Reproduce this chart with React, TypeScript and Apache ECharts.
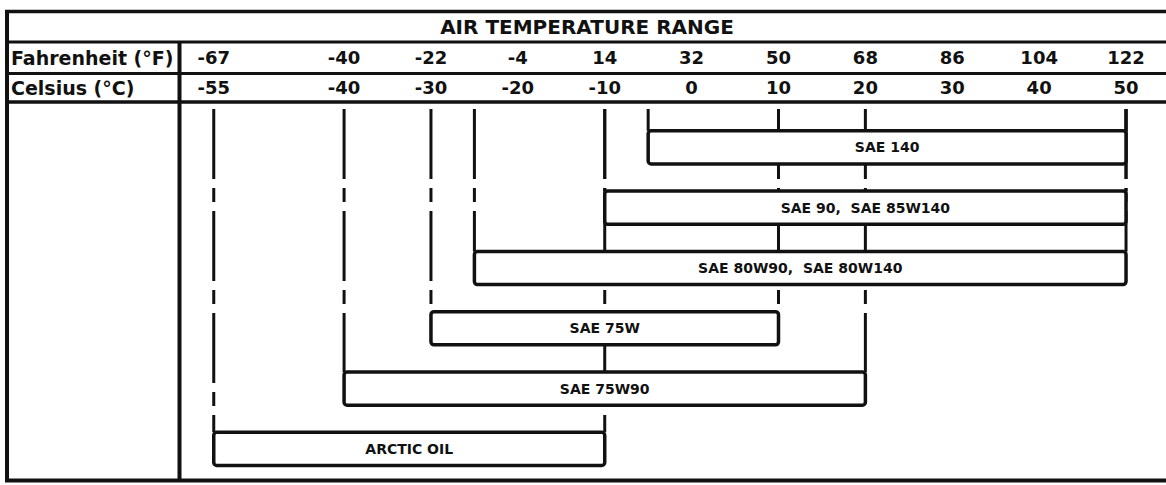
import React, { useEffect, useRef } from "react";
import * as echarts from "echarts";

// ---- data ----
const oils = [
  "SAE 140",
  "SAE 90,  SAE 85W140",
  "SAE 80W90,  SAE 80W140",
  "SAE 75W",
  "SAE 75W90",
  "ARCTIC OIL",
];
const lowC = [-5, -10, -25, -30, -40, -55];
const highC = [50, 50, 50, 10, 20, -10];
const celsiusTicks = [-55, -40, -30, -20, -10, 0, 10, 20, 30, 40, 50];
const fahrenheitTicks = [-67, -40, -22, -4, 14, 32, 50, 68, 86, 104, 122];
const titleText = "AIR TEMPERATURE RANGE";
const rowLabelF = "Fahrenheit (°F)";
const rowLabelC = "Celsius (°C)";

const C_MIN = -59;
const C_MAX = 54.6;
const toF = (c: number) => c * 1.8 + 32;

const INK = "#111";
const FONT = "DejaVu Sans";

export default function App() {
  const ref = useRef<HTMLDivElement>(null);

  useEffect(() => {
    if (!ref.current) return;
    const chart = echarts.init(ref.current, null, { renderer: "svg" });

    const rows = oils.map((name, i) => [lowC[i], highC[i], i, name]);
    const boxH = 0.55;

    const hline = (y: number, x1: number, x2: number, w: number) => ({
      type: "line",
      shape: { x1, y1: y, x2, y2: y },
      style: { stroke: INK, lineWidth: w },
      z: 10,
    });
    const vline = (x: number, y1: number, y2: number, w: number) => ({
      type: "line",
      shape: { x1: x, y1, x2: x, y2 },
      style: { stroke: INK, lineWidth: w },
      z: 10,
    });

    chart.setOption({
      animation: false,
      backgroundColor: "#fff",
      grid: { left: 179, right: 0, top: 107, bottom: 6 },
      xAxis: [
        {
          type: "value",
          position: "top",
          min: C_MIN,
          max: C_MAX,
          axisLine: { show: false },
          axisTick: { show: false },
          splitLine: { show: false },
          axisLabel: {
            customValues: celsiusTicks,
            margin: 20,
            verticalAlign: "middle",
            color: INK,
            fontFamily: FONT,
            fontWeight: "bold",
            fontSize: 18,
          },
        },
        {
          type: "value",
          position: "top",
          min: toF(C_MIN),
          max: toF(C_MAX),
          axisLine: { show: false },
          axisTick: { show: false },
          splitLine: { show: false },
          axisLabel: {
            customValues: fahrenheitTicks,
            margin: 50,
            verticalAlign: "middle",
            color: INK,
            fontFamily: FONT,
            fontWeight: "bold",
            fontSize: 18,
          },
        },
      ],
      yAxis: {
        type: "value",
        inverse: true,
        min: -0.67,
        max: 5.5,
        show: false,
      },
      graphic: [
        hline(11.5, 5, 1166, 3.5),
        hline(42, 5, 1166, 3),
        hline(73.5, 5, 1166, 3),
        hline(102, 5, 1166, 3.5),
        hline(480.5, 5, 1166, 4),
        vline(7, 10, 482, 4),
        vline(179.5, 42, 482, 4),
        {
          type: "text",
          x: 587,
          y: 27,
          style: {
            text: titleText,
            align: "center",
            verticalAlign: "middle",
            fill: INK,
            font: `bold 20px "${FONT}"`,
          },
          z: 10,
        },
        {
          type: "text",
          x: 11,
          y: 58,
          style: {
            text: rowLabelF,
            align: "left",
            verticalAlign: "middle",
            fill: INK,
            font: `bold 19px "${FONT}"`,
          },
          z: 10,
        },
        {
          type: "text",
          x: 11,
          y: 88,
          style: {
            text: rowLabelC,
            align: "left",
            verticalAlign: "middle",
            fill: INK,
            font: `bold 19px "${FONT}"`,
          },
          z: 10,
        },
      ],
      series: [
        {
          type: "custom",
          name: "guides",
          xAxisIndex: 0,
          data: rows,
          encode: { x: [0, 1], y: 2 },
          z: 1,
          renderItem: (params: any, api: any) => {
            const p1 = api.coord([api.value(0), api.value(2)]);
            const p2 = api.coord([api.value(1), api.value(2)]);
            const h = api.size([0, boxH])[1];
            const top = params.coordSys.y + 2;
            const bottom = p1[1] - h / 2;
            const style = {
              stroke: INK,
              lineWidth: 3,
              lineDash: [70, 9, 14, 9],
            };
            return {
              type: "group",
              children: [
                { type: "line", shape: { x1: p1[0], y1: top, x2: p1[0], y2: bottom }, style },
                { type: "line", shape: { x1: p2[0], y1: top, x2: p2[0], y2: bottom }, style },
              ],
            };
          },
        },
        {
          type: "custom",
          name: "ranges",
          xAxisIndex: 0,
          data: rows,
          encode: { x: [0, 1], y: 2 },
          z: 2,
          renderItem: (params: any, api: any) => {
            const p1 = api.coord([api.value(0), api.value(2)]);
            const p2 = api.coord([api.value(1), api.value(2)]);
            const h = api.size([0, boxH])[1];
            const name = rows[params.dataIndex][3] as string;
            return {
              type: "group",
              children: [
                {
                  type: "rect",
                  shape: { x: p1[0], y: p1[1] - h / 2, width: p2[0] - p1[0], height: h, r: 3 },
                  style: { fill: "#fff", stroke: INK, lineWidth: 3.5 },
                },
                {
                  type: "text",
                  style: {
                    text: name,
                    x: (p1[0] + p2[0]) / 2,
                    y: p1[1],
                    align: "center",
                    verticalAlign: "middle",
                    fill: INK,
                    font: `bold 14px "${FONT}"`,
                  },
                },
              ],
            };
          },
        },
      ],
    });

    return () => chart.dispose();
  }, []);

  return (
    <div
      ref={ref}
      style={{ position: "absolute", left: 0, top: 0, width: 1166, height: 485 }}
    />
  );
}
